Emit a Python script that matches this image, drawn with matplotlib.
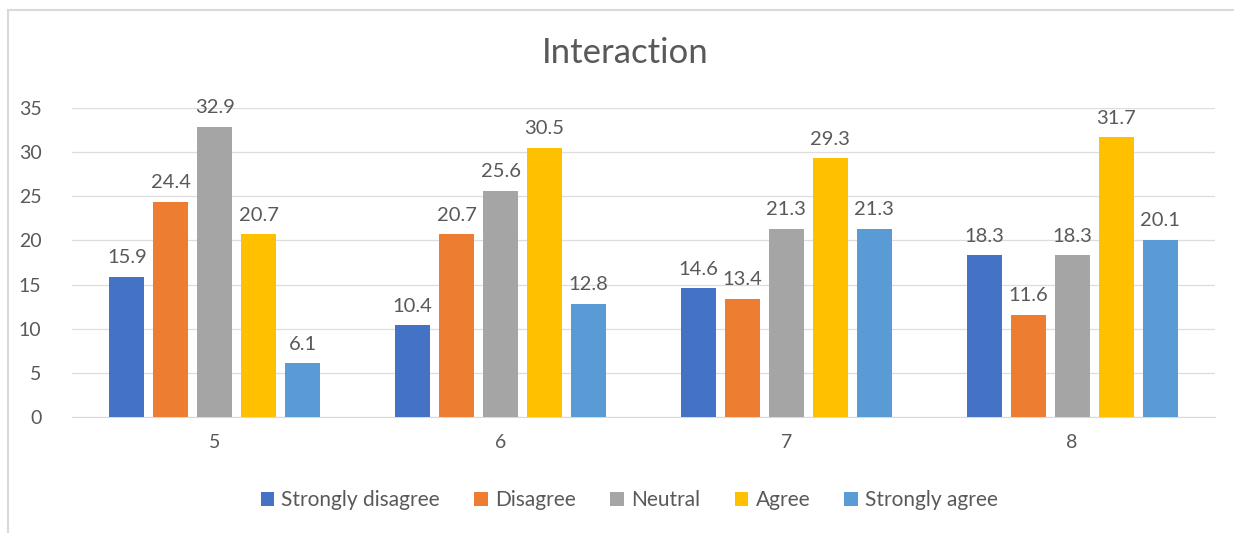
import matplotlib.pyplot as plt
import numpy as np
from matplotlib.lines import Line2D

plt.rcParams['font.family'] = ['Lato', 'DejaVu Sans']

groups = ['5', '6', '7', '8']
series = ['Strongly disagree', 'Disagree', 'Neutral', 'Agree', 'Strongly agree']
strongly_disagree = [15.9, 10.4, 14.6, 18.3]
disagree = [24.4, 20.7, 13.4, 11.6]
neutral = [32.9, 25.6, 21.3, 18.3]
agree = [20.7, 30.5, 29.3, 31.7]
strongly_agree = [6.1, 12.8, 21.3, 20.1]

values = [strongly_disagree, disagree, neutral, agree, strongly_agree]
colors = ['#4472C4', '#ED7D31', '#A5A5A5', '#FFC000', '#5B9BD5']
text_color = '#595959'

fig = plt.figure(figsize=(12.34, 5.33), dpi=100)
ax = fig.add_axes([0.0583, 0.2176, 0.9263, 0.5798])

x = np.arange(len(groups))
width = 0.122
step = 0.154
for i, (name, vals, col) in enumerate(zip(series, values, colors)):
    pos = x + (i - 2) * step
    bars = ax.bar(pos, vals, width, color=col, label=name, zorder=3)
    for b, v in zip(bars, vals):
        ax.text(b.get_x() + b.get_width() / 2, v + 1.2, f'{v:.1f}',
                ha='center', va='bottom', fontsize=14.5, color=text_color)

ax.set_xlim(-0.5, len(groups) - 0.5)
ax.set_ylim(0, 35)
ax.set_yticks(range(0, 36, 5))
ax.set_xticks(x)
ax.set_xticklabels(groups)
ax.tick_params(axis='both', length=0, labelsize=14, labelcolor=text_color)
ax.tick_params(axis='y', pad=22)
ax.tick_params(axis='x', pad=12)
ax.grid(axis='y', color='#DDDDDD', linewidth=0.9, zorder=0)
for s in ['top', 'right', 'left']:
    ax.spines[s].set_visible(False)
ax.spines['bottom'].set_color('#D9D9D9')

fig.text(0.507, 0.9, 'Interaction', ha='center', va='center',
         fontsize=25, color=text_color)

fig.legend(loc='center', bbox_to_anchor=(0.51, 0.062), ncol=5, frameon=False,
           fontsize=15, handlelength=0.65, handleheight=0.65, handletextpad=0.35,
           columnspacing=1.65, labelcolor=text_color)

# chart frame (top and left edges)
bx, by = 7.5 / 1234, 1 - 9.5 / 533
fig.lines.append(Line2D([bx, 1], [by, by], transform=fig.transFigure,
                        color='#D9D9D9', linewidth=1.5))
fig.lines.append(Line2D([bx, bx], [0, by], transform=fig.transFigure,
                        color='#D9D9D9', linewidth=1.5))

fig.savefig('out.png', dpi=100)
